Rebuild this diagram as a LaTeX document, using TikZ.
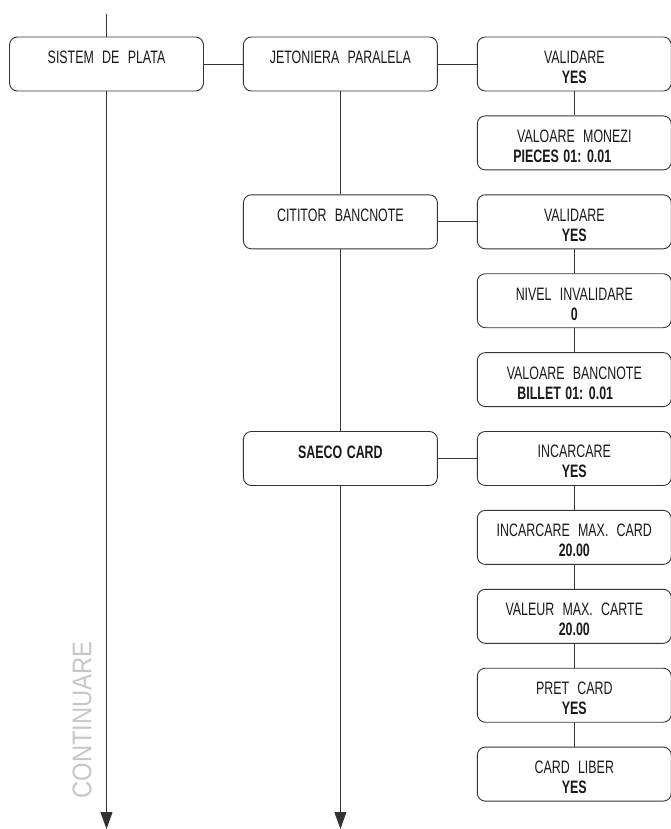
\documentclass[tikz,border=0pt]{standalone}
\usepackage{fontspec}
\setmainfont{Liberation Sans}[FakeStretch=0.69,WordSpace=2.4,BoldFeatures={WordSpace=1.3}]
\newfontfamily\contfont{Liberation Sans}[FakeStretch=0.88]
\usetikzlibrary{positioning,arrows.meta}
\newcommand\Righe[2]{\rule{0pt}{19pt}#1\\ #2}

\begin{document}
\begin{tikzpicture}[x=1pt,y=-1pt,
mybox/.style={
  draw=black!80,
  line width=0.9pt,
  rounded corners=8pt,
  minimum width=194pt,
  minimum height=54pt,
  align=center,
  font=\fontsize{18}{20}\selectfont,
  text=black!90},
mylink/.style={
  draw=black!80,
  line width=0.9pt},
node distance=24pt and 39pt
]
\useasboundingbox (0,0) rectangle (671,829);
% first row
\node[mybox] (Plata) at (106.5,64) {\Righe{SISTEM DE PLATA}{\mbox{}}};
\node[mybox, right=of Plata] (Jeton) {\Righe{JETONIERA PARALELA}{\mbox{}}};
\node[mybox, right=of Jeton] (ValA) {\Righe{VALIDARE}{\textbf{YES}}};
\node[mybox, below=of ValA] (Monezi) {\Righe{VALOARE MONEZI}{\textbf{PIECES 01: 0.01}\hspace*{24pt}}};
% bancnote
\node[mybox, below=of Monezi] (ValB) {\Righe{VALIDARE}{\textbf{YES}}};
\node[mybox, left=of ValB] (Citit) {\Righe{CITITOR BANCNOTE}{\mbox{}}};
\node[mybox, below=of ValB] (Nivel) {\Righe{NIVEL INVALIDARE}{\textbf{0}}};
\node[mybox, below=of Nivel] (Banc) {\Righe{VALOARE BANCNOTE}{\textbf{BILLET 01: 0.01}\hspace*{18pt}}};
% card
\node[mybox, below=of Banc] (Incarc) {\Righe{INCARCARE}{\textbf{YES}}};
\node[mybox, left=of Incarc] (Saeco) {\Righe{\textbf{SAECO CARD}}{\mbox{}}};
\node[mybox, below=of Incarc] (MaxCard) {\Righe{INCARCARE MAX. CARD}{\textbf{20.00}}};
\node[mybox, below=of MaxCard] (ValMax) {\Righe{VALEUR MAX. CARTE}{\textbf{20.00}}};
\node[mybox, below=of ValMax] (Pret) {\Righe{PRET CARD}{\textbf{YES}}};
\node[mybox, below=of Pret] (Liber) {\Righe{CARD LIBER}{\textbf{YES}}};
% lines
\coordinate (Top) at (106.5,14);
\coordinate (EndA) at (106.5,829);
\coordinate (EndB) at (Saeco.south |- EndA);
\draw[mylink] (Top) -- (Plata);
\draw[mylink,-{Triangle[length=17pt,width=12pt]}] (Plata) -- (EndA);
\draw[mylink,-{Triangle[length=17pt,width=12pt]}] (Saeco) -- (EndB);
\foreach \A/\B in {Plata/Jeton,Jeton/ValA,Citit/ValB,Saeco/Incarc,
  Jeton/Citit,Citit/Saeco,ValA/Monezi,ValB/Nivel,Nivel/Banc,
  Incarc/MaxCard,MaxCard/ValMax,ValMax/Pret,Pret/Liber}
  \draw[mylink] (\A) -- (\B);
\node[rotate=90, text=black!22, font=\contfont\fontsize{27}{27}\selectfont] (Cont) at (82,720) {CONTINUARE};
\end{tikzpicture}
\end{document}
